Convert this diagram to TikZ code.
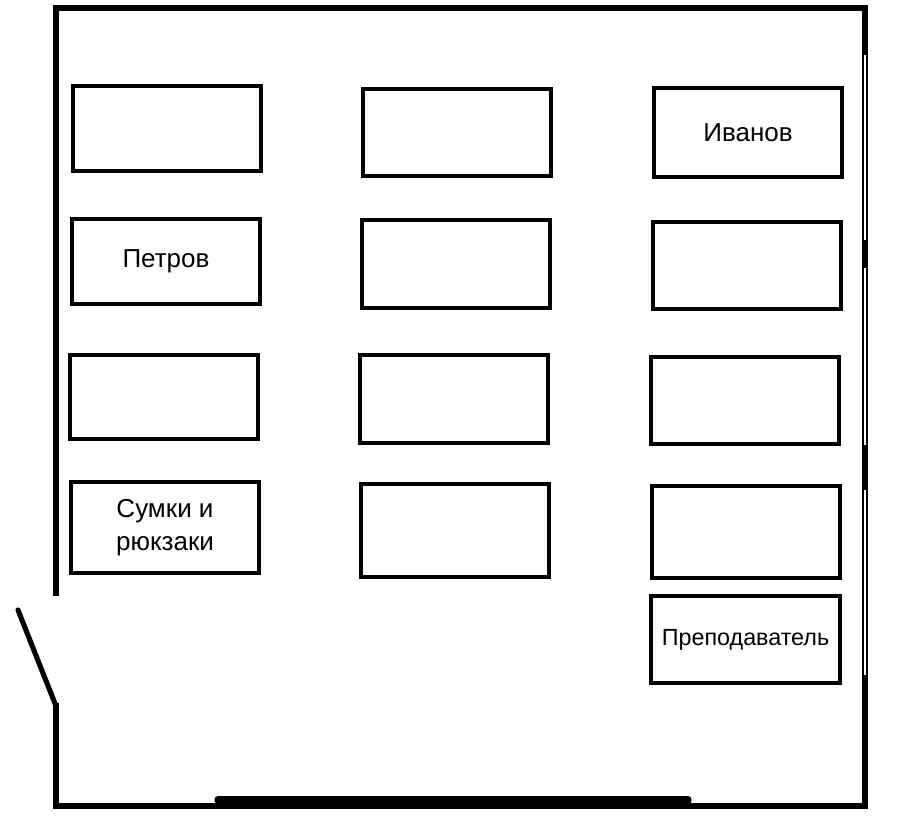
\documentclass[tikz,border=0pt]{standalone}
\usepackage{fontspec}
\setmainfont{Liberation Sans}
\begin{document}
\begin{tikzpicture}[x=0.75pt,y=-0.75pt,
  desk/.style={draw,line width=3pt,align=center,font=\fontsize{19.5}{25}\selectfont,outer sep=0pt},
  wall/.style={line width=3.8pt}]
\useasboundingbox (0,0) rectangle (907,819);
\newcommand\desk[6]{\node[desk,minimum width={(#4-#2-4)*0.75pt},minimum height={(#5-#3-4)*0.75pt},anchor=center,inner sep=0pt] (#1) at ({(#2+#4)/2},{(#3+#5)/2}) {#6};}
\desk{a1}{71}{84}{263}{173}{}
\desk{a2}{361}{87}{553}{178}{}
\desk{a3}{652}{86}{844}{179}{Иванов}
\desk{b1}{70}{217}{262}{306}{Петров}
\desk{b2}{360}{218}{552}{310}{}
\desk{b3}{651}{220}{843}{311}{}
\desk{c1}{68}{353}{260}{441}{}
\desk{c2}{358}{353}{550}{445}{}
\desk{c3}{649}{355}{841}{446}{}
\desk{d1}{69}{480}{261}{575}{Сумки и\\рюкзаки}
\desk{d2}{359}{482}{551}{579}{}
\desk{d3}{650}{484}{842}{580}{}
\desk{t}{649}{594}{842}{685}{\fontsize{17.5}{21}\selectfont Преподаватель}
\draw[wall,line cap=rect] (56,593) -- (56,8) -- (865,8) -- (865,806) -- (56,806) -- (56,706);
\draw[wall,line cap=round] (56,706) -- (18,610);
\draw[line width=1.2pt,white] (865,55) -- (865,240) (865,268) -- (865,445) (865,490) -- (865,675);
\draw[line width=5.5pt,line cap=round] (218,800) -- (688,800);
\end{tikzpicture}
\end{document}
